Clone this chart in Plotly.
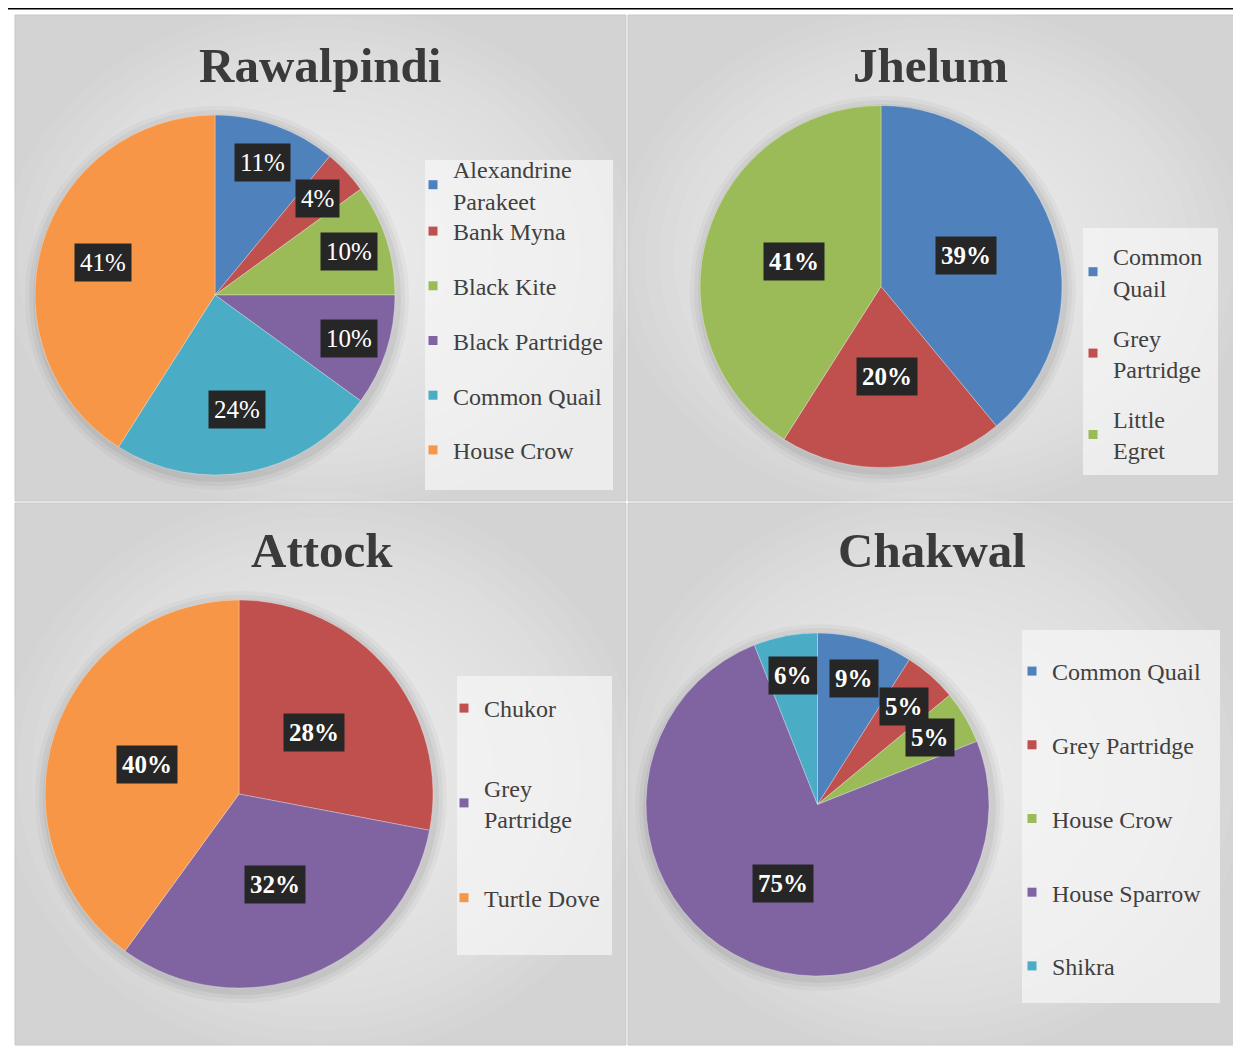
import math
import plotly.graph_objects as go

# ---------------- data ----------------
raw_labels = ["Alexandrine<br>Parakeet", "Bank Myna", "Black Kite", "Black Partridge", "Common Quail", "House Crow"]
raw_values = [11, 4, 10, 10, 24, 41]

jhe_labels = ["Common<br>Quail", "Grey<br>Partridge", "Little<br>Egret"]
jhe_values = [39, 20, 41]

att_labels = ["Chukor", "Grey<br>Partridge", "Turtle Dove"]
att_values = [28, 32, 40]

cha_labels = ["Common Quail", "Grey Partridge", "House Crow", "House Sparrow", "Shikra"]
cha_values = [9, 5, 5, 75, 6]

titles = ["Rawalpindi", "Jhelum", "Attock", "Chakwal"]

# ---------------- style ----------------
BLUE, RED, GREEN, PURPLE, AQUA, ORANGE = "#4F81BD", "#C0504D", "#9BBB59", "#8064A2", "#4BACC6", "#F79646"
OFF = 8                      # default page margin of the html body
W, H = 1241 - OFF, 1051 - OFF
SERIF = "Liberation Serif"


def px(x):
    return (x - OFF) / W


def py(y):
    return 1 - (y - OFF) / H


charts = [
    dict(title=titles[0], labels=raw_labels, values=raw_values,
         colors=[BLUE, RED, GREEN, PURPLE, AQUA, ORANGE],
         panel=(15, 15, 626, 501), pie=(35, 115, 395, 475), title_xy=(320, 65),
         lbox=(425, 160, 613, 490), legends=[(0, 1, 147, 20), (1, 6, 209, 20.5)],
         lx=413, lr=(0.78, 0.65), bold=False),
    dict(title=titles[1], labels=jhe_labels, values=jhe_values,
         colors=[BLUE, RED, GREEN],
         panel=(628, 15, 1236, 501), pie=(700, 105, 1062, 468), title_xy=(930, 65),
         lbox=(1083, 228, 1218, 475), legends=[(0, 3, 234, 16)],
         lx=1073, lr=(0.5, 0.5), bold=True),
    dict(title=titles[2], labels=att_labels, values=att_values,
         colors=[RED, PURPLE, ORANGE],
         panel=(15, 503, 626, 1045), pie=(45, 600, 433, 988), title_xy=(322, 550),
         lbox=(457, 676, 612, 955), legends=[(0, 3, 686, 45)],
         lx=444, lr=(0.5, 0.5), bold=True),
    dict(title=titles[3], labels=cha_labels, values=cha_values,
         colors=[BLUE, RED, GREEN, PURPLE, AQUA],
         panel=(628, 503, 1236, 1045), pie=(645, 633, 990, 976), title_xy=(932, 550),
         lbox=(1022, 630, 1220, 1003), legends=[(0, 5, 649, 39.5)],
         lx=1012, lr=(0.76, 0.5), bold=True),
]

fig = go.Figure()
shapes = []
annotations = []

# top rule
shapes.append(dict(type="line", xref="paper", yref="paper", x0=px(4), x1=px(1236), y0=py(8.5), y1=py(8.5),
                   line=dict(color="black", width=2)))

legend_count = 0
for i, c in enumerate(charts):
    x0, y0, x1, y1 = c["panel"]
    # panel background with a radial-like gradient
    shapes.append(dict(type="rect", xref="paper", yref="paper", layer="below",
                       x0=px(x0), x1=px(x1), y0=py(y1), y1=py(y0),
                       fillcolor="#d3d3d3", line=dict(color="#c8c8c8", width=1)))
    cxp, cyp = (x0 + x1) / 2, (y0 + y1) / 2
    wp, hp = (x1 - x0), (y1 - y0)
    N = 22
    for k in range(N):
        t = 1 - k / N
        rx, ry = 0.52 * wp * t, 0.52 * hp * t
        shapes.append(dict(type="circle", xref="paper", yref="paper", layer="below",
                           x0=px(cxp - rx), x1=px(cxp + rx), y0=py(cyp + ry), y1=py(cyp - ry),
                           fillcolor="rgba(255,255,255,0.055)", line=dict(width=0)))
    # pie shadow
    a0, b0, a1, b1 = c["pie"]
    for s, op in [(12, 0.03), (8, 0.04), (4, 0.05)]:
        shapes.append(dict(type="circle", xref="paper", yref="paper", layer="below",
                           x0=px(a0 - s + 2), x1=px(a1 + s + 2), y0=py(b1 + s + 3), y1=py(b0 - s + 3),
                           fillcolor=f"rgba(0,0,0,{op})", line=dict(width=0)))
    # legend box
    lb = c["lbox"]
    shapes.append(dict(type="rect", xref="paper", yref="paper", layer="below",
                       x0=px(lb[0]), x1=px(lb[2]), y0=py(lb[3]), y1=py(lb[1]),
                       fillcolor="rgba(246,246,246,0.7)", line=dict(width=0)))

    fig.add_trace(go.Pie(
        labels=c["labels"], values=c["values"], sort=False, direction="clockwise", rotation=0,
        marker=dict(colors=c["colors"], line=dict(color="rgba(255,255,255,0.5)", width=0.6)),
        textinfo="none", showlegend=False, hoverinfo="label+percent",
        domain=dict(x=[px(a0), px(a1)], y=[py(b1), py(b0)]),
    ))
    # legend entries
    for (s0, s1, ltop, gap) in c["legends"]:
        legend_count += 1
        lname = "legend" if legend_count == 1 else f"legend{legend_count}"
        for lab, col in zip(c["labels"][s0:s1], c["colors"][s0:s1]):
            fig.add_trace(go.Scatter(x=[None], y=[None], mode="markers", name=lab,
                                     marker=dict(symbol="square", size=9, color=col),
                                     legend=lname, legendgroup=f"{i}-{lab}", showlegend=True,
                                     hoverinfo="skip"))
        fig.update_layout({lname: dict(
            x=px(c["lx"]), y=py(ltop), xanchor="left", yanchor="top",
            bgcolor="rgba(0,0,0,0)", font=dict(family=SERIF, size=24, color="#404040"),
            tracegroupgap=gap, itemclick=False, itemdoubleclick=False,
        )})

    # title
    annotations.append(dict(text=f"<b>{c['title']}</b>", x=px(c["title_xy"][0]), y=py(c["title_xy"][1]),
                            xref="paper", yref="paper", showarrow=False, xanchor="center", yanchor="middle",
                            font=dict(family=SERIF, size=49, color="#3a3a3a")))

    # data labels derived from the values
    cx, cy, r = (a0 + a1) / 2, (b0 + b1) / 2, (a1 - a0) / 2
    total = sum(c["values"])
    cum = 0
    for v in c["values"]:
        mid = (cum + v / 2) / total * 2 * math.pi
        cum += v
        f = c["lr"][0] if v < 15 else c["lr"][1]
        lx = cx + f * r * math.sin(mid)
        ly = cy - f * r * math.cos(mid)
        txt = f"{round(v / total * 100)}%"
        if c["bold"]:
            txt = f"<b>{txt}</b>"
        annotations.append(dict(text=txt, x=px(lx), y=py(ly), xref="paper", yref="paper", showarrow=False,
                                xanchor="center", yanchor="middle", bgcolor="#262626", borderpad=5,
                                font=dict(family=SERIF, size=25, color="white")))

fig.update_layout(
    width=W, height=H, margin=dict(l=0, r=0, t=0, b=0),
    paper_bgcolor="white", plot_bgcolor="rgba(0,0,0,0)",
    xaxis=dict(visible=False, range=[0, 1]), yaxis=dict(visible=False, range=[0, 1]),
    shapes=shapes, annotations=annotations,
)

fig.write_html("out.html")
